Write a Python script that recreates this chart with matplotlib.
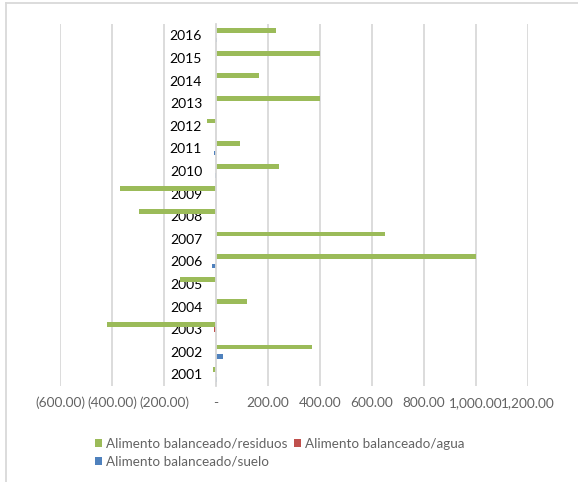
import matplotlib
matplotlib.use("Agg")
import matplotlib.pyplot as plt
from matplotlib.lines import Line2D
import numpy as np

# Data
years = [str(y) for y in range(2001, 2017)]
residuos = [-10, 368, -419, 119, -138, 1000, 650, -297, -369, 242, 92, -35, 400, 164, 400, 231]
agua = [0, 0, -8, 0, 0, 0, 0, 0, 0, 0, 0, 0, 0, 0, 0, 0]
suelo = [4, 25, 0, 0, 0, -14, 0, 0, 0, -4, -8, 0, 0, 0, 0, 5]
series_names = ["Alimento balanceado/residuos", "Alimento balanceado/agua", "Alimento balanceado/suelo"]
x_ticks = [-600, -400, -200, 0, 200, 400, 600, 800, 1000, 1200]
x_tick_labels = ["(600.00)", "(400.00)", "(200.00)", "-", "200.00", "400.00",
                 "600.00", "800.00", "1,000.00", "1,200.00"]

GREEN = "#9BBB59"
RED = "#C0504D"
BLUE = "#4F81BD"
GRID = "#D9D9D9"
TEXT = "#636363"

plt.rcParams["font.family"] = ["Lato", "DejaVu Sans"]

fig = plt.figure(figsize=(5.78, 4.82), dpi=100)
W, H = 578, 482
ax = fig.add_axes([60 / W, 1 - 385.7 / H, (528 - 60) / W, (385.7 - 24) / H])

y = np.arange(len(years))
h = 0.21
b_res = ax.barh(y + h, residuos, height=h, color=GREEN, zorder=2)
b_agua = ax.barh(y, agua, height=h, color=RED, zorder=2)
b_suelo = ax.barh(y - h, suelo, height=h, color=BLUE, zorder=2)

ax.set_xlim(-600, 1200)
ax.set_ylim(-0.5, len(years) - 0.5)
ax.set_xticks(x_ticks)
ax.set_xticklabels(x_tick_labels, fontsize=9.8, color=TEXT)
ax.set_yticks(y)
ax.set_yticklabels(years, fontsize=9.8, color=TEXT)

for s in ["top", "right", "bottom"]:
    ax.spines[s].set_visible(False)
ax.spines["left"].set_position(("data", 0))
ax.spines["left"].set_color(GRID)
ax.spines["left"].set_linewidth(1.3)

ax.tick_params(axis="x", length=0, pad=8)
ax.tick_params(axis="y", length=0, pad=10)
ax.xaxis.grid(True, color=GRID, linewidth=1.3, zorder=0)
ax.set_axisbelow(True)

# Legend: residuos and agua on the first row, suelo below
leg = fig.legend([b_res, b_suelo, b_agua],
                 [series_names[0], series_names[2], series_names[1]],
                 ncol=2, loc="upper left", bbox_to_anchor=(95 / W, 1 - 438 / H),
                 frameon=False, fontsize=9.7, borderpad=0, borderaxespad=0,
                 handlelength=0.55, handleheight=0.55, handletextpad=0.3,
                 columnspacing=0.45, labelspacing=0.4)
for t in leg.get_texts():
    t.set_color(TEXT)

# Chart border (left and top edges)
fig.add_artist(Line2D([6 / W, 6 / W], [0, 1 - 2.5 / H], color=GRID, linewidth=1.3))
fig.add_artist(Line2D([6 / W, 1], [1 - 2.5 / H, 1 - 2.5 / H], color=GRID, linewidth=1.3))

fig.savefig("out.png", dpi=100)
